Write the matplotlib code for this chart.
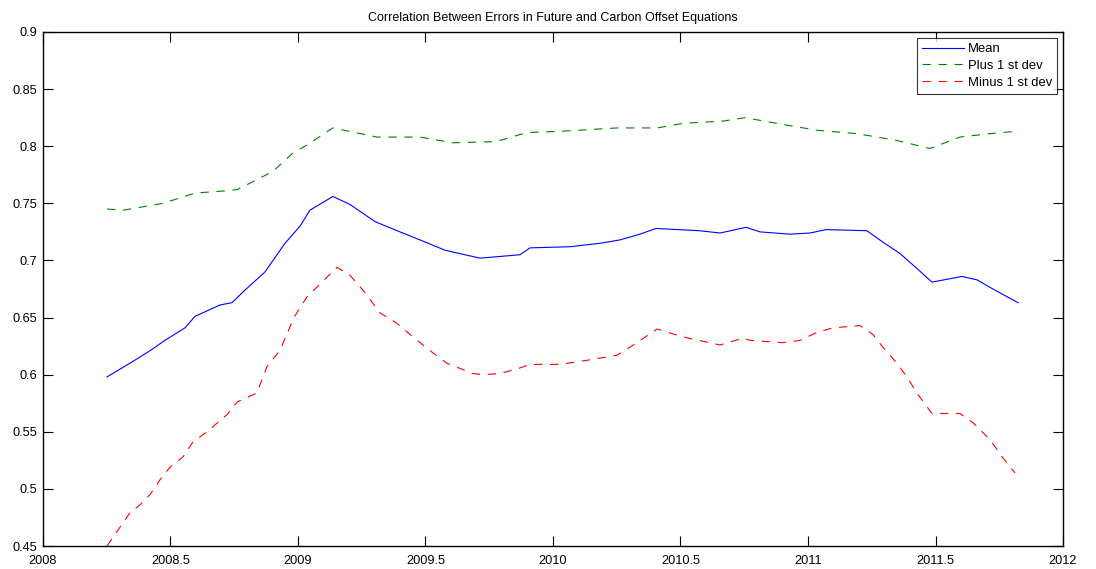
import matplotlib
matplotlib.use("Agg")
import matplotlib.pyplot as plt

plt.rcParams['font.family'] = ['Liberation Sans', 'DejaVu Sans']
plt.rcParams['lines.scale_dashes'] = False

title = "Correlation Between Errors in Future and Carbon Offset Equations"
series_labels = ["Mean", "Plus 1 st dev", "Minus 1 st dev"]

x_ticks = [2008, 2008.5, 2009, 2009.5, 2010, 2010.5, 2011, 2011.5, 2012]
x_tick_labels = ["2008", "2008.5", "2009", "2009.5", "2010", "2010.5", "2011", "2011.5", "2012"]
y_ticks = [0.45, 0.5, 0.55, 0.6, 0.65, 0.7, 0.75, 0.8, 0.85, 0.9]
y_tick_labels = ["0.45", "0.5", "0.55", "0.6", "0.65", "0.7", "0.75", "0.8", "0.85", "0.9"]

mean_t = [2008.251, 2008.341, 2008.420, 2008.478, 2008.557, 2008.596, 2008.694,
          2008.741, 2008.792, 2008.871, 2008.949, 2009.008, 2009.047, 2009.137,
          2009.204, 2009.302, 2009.400, 2009.478, 2009.576, 2009.635, 2009.714,
          2009.871, 2009.910, 2010.067, 2010.184, 2010.263, 2010.341, 2010.404,
          2010.576, 2010.655, 2010.757, 2010.812, 2010.929, 2011.008, 2011.071,
          2011.231, 2011.294, 2011.361, 2011.427, 2011.486, 2011.604, 2011.663,
          2011.725, 2011.824]
mean_v = [0.598, 0.610, 0.621, 0.630, 0.641, 0.651, 0.661,
          0.663, 0.674, 0.690, 0.715, 0.730, 0.744, 0.756,
          0.749, 0.734, 0.725, 0.718, 0.709, 0.706, 0.702,
          0.705, 0.711, 0.712, 0.715, 0.718, 0.723, 0.728,
          0.726, 0.724, 0.729, 0.725, 0.723, 0.724, 0.727,
          0.726, 0.716, 0.706, 0.693, 0.681, 0.686, 0.683,
          0.675, 0.663]

plus_t = [2008.251, 2008.314, 2008.471, 2008.596, 2008.722, 2008.761, 2008.824,
          2008.902, 2008.980, 2009.035, 2009.137, 2009.310, 2009.478, 2009.608,
          2009.776, 2009.898, 2010.027, 2010.251, 2010.408, 2010.510, 2010.667,
          2010.753, 2010.902, 2011.035, 2011.192, 2011.349, 2011.478, 2011.596,
          2011.714, 2011.812]
plus_v = [0.745, 0.744, 0.750, 0.759, 0.761, 0.762, 0.769,
          0.778, 0.794, 0.801, 0.816, 0.808, 0.808, 0.803,
          0.804, 0.812, 0.813, 0.816, 0.816, 0.820, 0.822,
          0.825, 0.819, 0.814, 0.811, 0.805, 0.798, 0.808,
          0.811, 0.813]

minus_t = [2008.251, 2008.341, 2008.380, 2008.420, 2008.459, 2008.498, 2008.549,
           2008.588, 2008.643, 2008.722, 2008.761, 2008.839, 2008.878, 2008.929,
           2008.984, 2009.035, 2009.153, 2009.204, 2009.255, 2009.322, 2009.388,
           2009.451, 2009.518, 2009.584, 2009.686, 2009.725, 2009.792, 2009.859,
           2009.910, 2010.027, 2010.145, 2010.251, 2010.329, 2010.408, 2010.510,
           2010.655, 2010.745, 2010.773, 2010.902, 2010.969, 2011.035, 2011.098,
           2011.204, 2011.255, 2011.294, 2011.349, 2011.388, 2011.427, 2011.486,
           2011.596, 2011.647, 2011.714, 2011.765, 2011.812]
minus_v = [0.450, 0.479, 0.486, 0.495, 0.508, 0.519, 0.528,
           0.541, 0.550, 0.565, 0.576, 0.584, 0.607, 0.621,
           0.650, 0.668, 0.694, 0.687, 0.674, 0.654, 0.645,
           0.633, 0.621, 0.610, 0.601, 0.600, 0.601, 0.605,
           0.609, 0.609, 0.613, 0.617, 0.628, 0.640, 0.633,
           0.626, 0.632, 0.630, 0.628, 0.630, 0.637, 0.641,
           0.643, 0.635, 0.624, 0.610, 0.598, 0.584, 0.566,
           0.566, 0.558, 0.543, 0.527, 0.514]

dash_pattern = (6, 5.5)

fig = plt.figure(figsize=(10.96, 5.69), dpi=100)
ax = fig.add_axes([0.0392, 0.0404, 0.9307, 0.9034])

ax.plot(mean_t, mean_v, color=(0, 0, 1), lw=0.8, label=series_labels[0])
ax.plot(plus_t, plus_v, color=(0, 0.5, 0), lw=0.8, dashes=dash_pattern, label=series_labels[1])
ax.plot(minus_t, minus_v, color=(1, 0, 0), lw=0.8, dashes=dash_pattern, label=series_labels[2])

ax.set_xlim(2008, 2012)
ax.set_ylim(0.45, 0.9)
ax.set_xticks(x_ticks)
ax.set_xticklabels(x_tick_labels)
ax.set_yticks(y_ticks)
ax.set_yticklabels(y_tick_labels)
ax.tick_params(direction='in', length=7.2, width=0.8, top=True, right=True,
               labelsize=9.2, colors='black')
ax.tick_params(axis='x', pad=6.5)
ax.tick_params(axis='y', pad=4)
for s in ax.spines.values():
    s.set_linewidth(1.0)

ax.set_title(title, fontsize=9, pad=8)

leg = ax.legend(loc='upper right', bbox_to_anchor=(0.994, 0.9883), fontsize=9.4,
                frameon=True, fancybox=False, shadow=False, borderaxespad=0,
                handlelength=3.2, handletextpad=0.3, labelspacing=0.36,
                borderpad=0.38)
leg.get_frame().set_edgecolor('black')
leg.get_frame().set_linewidth(0.8)

fig.savefig("out.png", dpi=100)
